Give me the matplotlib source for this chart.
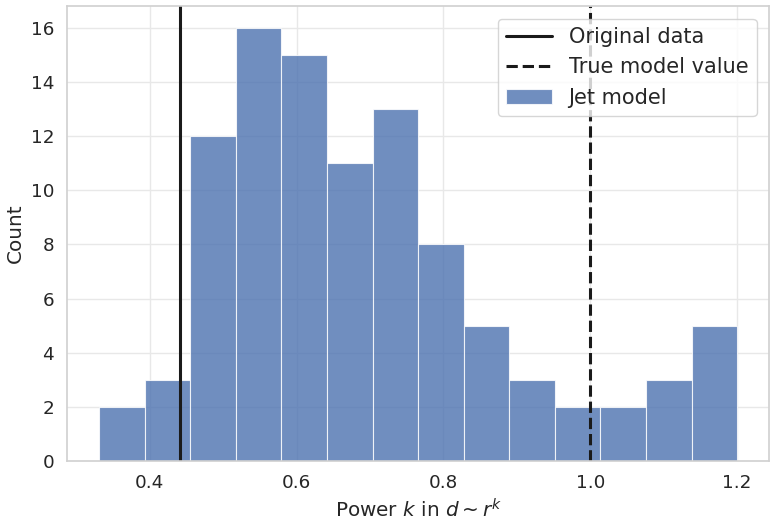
import numpy as np
import matplotlib
matplotlib.use("Agg")
import matplotlib.pyplot as plt
import seaborn as sns

sns.set_theme(style="whitegrid", font_scale=1.2)

# bin edges and counts
bin_edges = np.linspace(0.331, 1.2, 15)
counts = [2, 3, 12, 16, 15, 11, 13, 8, 5, 3, 2, 2, 3, 5]

original_k = 0.441
true_k = 1.0

fig, ax = plt.subplots(figsize=(7.75, 5.27), dpi=100)

ax.bar(bin_edges[:-1], counts, width=np.diff(bin_edges), align="edge",
       color="#4c72b0", alpha=0.8, edgecolor="white", linewidth=0.8,
       label="Jet model")
ax.axvline(original_k, color="k", lw=2.2, label="Original data")
ax.axvline(true_k, color="k", lw=2.2, ls="--", label="True model value")

ax.grid(color="#e8e8e8", lw=1.0)
for sp in ax.spines.values():
    sp.set_color("#d0d0d0")
    sp.set_linewidth(1.2)

leg = ax.legend(loc="upper right", fontsize=15, handlelength=2.2,
                borderaxespad=0.6)
leg.get_frame().set_edgecolor("#cccccc")

ax.set_xlabel(r"Power $k$ in $d \sim r^k$")
ax.set_ylabel("Count")
ax.set_yticks(range(0, 17, 2))

fig.tight_layout(pad=0.3)
fig.savefig("out.png")
